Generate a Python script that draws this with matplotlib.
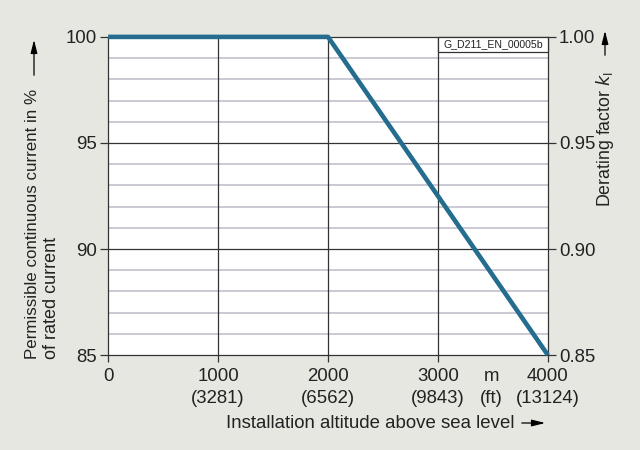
import matplotlib
matplotlib.use("Agg")
import matplotlib.pyplot as plt
from matplotlib.patches import Rectangle

plt.rcParams['font.family'] = ['Liberation Sans', 'DejaVu Sans']

# data
altitude_m = [0, 2000, 4000]
current_pct = [100, 100, 85]
x_ticks = [0, 1000, 2000, 3000, 4000]
x_tick_labels = ["0", "1000\n(3281)", "2000\n(6562)", "3000\n(9843)", "4000\n(13124)"]
y_ticks = [85, 90, 95, 100]
k_ticks = [0.85, 0.90, 0.95, 1.00]

bg = "#e7e7e2"
line_col = "#246d8f"
txt = "#222222"
fs_tick = 13.4

fig = plt.figure(figsize=(6.4, 4.5), dpi=100, facecolor=bg)
ax = fig.add_axes([0.169, 0.211, 0.687, 0.707])
ax.set_facecolor("white")

ax.set_xlim(0, 4000)
ax.set_ylim(85, 100)

# grid: minor every 1 %, major every 5 %
for v in range(86, 100):
    if v % 5 != 0:
        ax.axhline(v, color="#c6c5d1", lw=1.3, zorder=1)
for v in [90, 95]:
    ax.axhline(v, color="#333333", lw=0.9, zorder=2)
for v in [1000, 2000, 3000]:
    ax.axvline(v, color="#333333", lw=0.9, zorder=2)

ax.plot(altitude_m, current_pct, color=line_col, lw=3.3, zorder=5,
        solid_capstyle="butt", clip_on=False)

for s in ax.spines.values():
    s.set_color("#333333")
    s.set_linewidth(0.9)

ax.set_xticks(x_ticks)
ax.set_xticklabels(x_tick_labels, fontsize=fs_tick, color=txt, linespacing=1.4)
ax.set_yticks(y_ticks)
ax.set_yticklabels([str(v) for v in y_ticks], fontsize=fs_tick, color=txt)
ax.tick_params(axis="both", direction="out", length=6, width=0.9, color="#333333", pad=2)
ax.tick_params(axis="x", length=5, pad=4)

ax.annotate("m\n(ft)", xy=(3490, 85), xytext=(0, -9), textcoords="offset points",
            ha="center", va="top", fontsize=fs_tick, color=txt, linespacing=1.4,
            annotation_clip=False)

# right axis: derating factor
ax2 = ax.twinx()
ax2.set_ylim(0.85, 1.00)
ax2.set_yticks(k_ticks)
ax2.set_yticklabels(["%.2f" % v for v in k_ticks], fontsize=fs_tick, color=txt)
ax2.tick_params(axis="y", direction="out", length=6, width=0.9, color="#333333", pad=2)
for s in ax2.spines.values():
    s.set_visible(False)

# diagram id box, between the 3000 grid line and the right edge
box_bottom = 1 - 15 / 318
ax.add_patch(Rectangle((0.75, box_bottom), 0.25, 1 - box_bottom, transform=ax.transAxes,
                       fc="white", ec="#333333", lw=0.9, zorder=6, clip_on=False))
ax.text(0.875, (1 + box_bottom) / 2, "G_D211_EN_00005b", transform=ax.transAxes,
        ha="center", va="center", fontsize=7.6, color=txt, zorder=7)

arrow = dict(arrowstyle="-|>,head_length=0.8,head_width=0.2", color="black", lw=0.9)


def fig_arrow(x0, y0, x1, y1):
    # pixel coordinates, origin at top left
    ax.annotate("", xy=(x1 / 640, 1 - y1 / 450), xytext=(x0 / 640, 1 - y0 / 450),
                xycoords="figure fraction", textcoords="figure fraction",
                arrowprops=arrow, annotation_clip=False)


# axis labels
fig.text(33 / 640, 1 - 359 / 450, "Permissible continuous current in %", rotation=90,
         ha="center", va="bottom", fontsize=12.2, color=txt)
fig.text(51 / 640, 1 - 359 / 450, "of rated current", rotation=90,
         ha="center", va="bottom", fontsize=13, color=txt)
fig_arrow(34, 78, 34, 37)

fig.text(605 / 640, 1 - 207 / 450, "Derating factor $k_\\mathregular{I}$", rotation=90,
         ha="center", va="bottom", fontsize=12.8, color=txt)
fig_arrow(605, 58, 605, 28)

fig.text(226 / 640, 1 - 423 / 450, "Installation altitude above sea level", ha="left",
         va="center", fontsize=13.4, color=txt)
fig_arrow(519, 423, 548, 423)

fig.savefig("out.png", dpi=100, facecolor=bg)
